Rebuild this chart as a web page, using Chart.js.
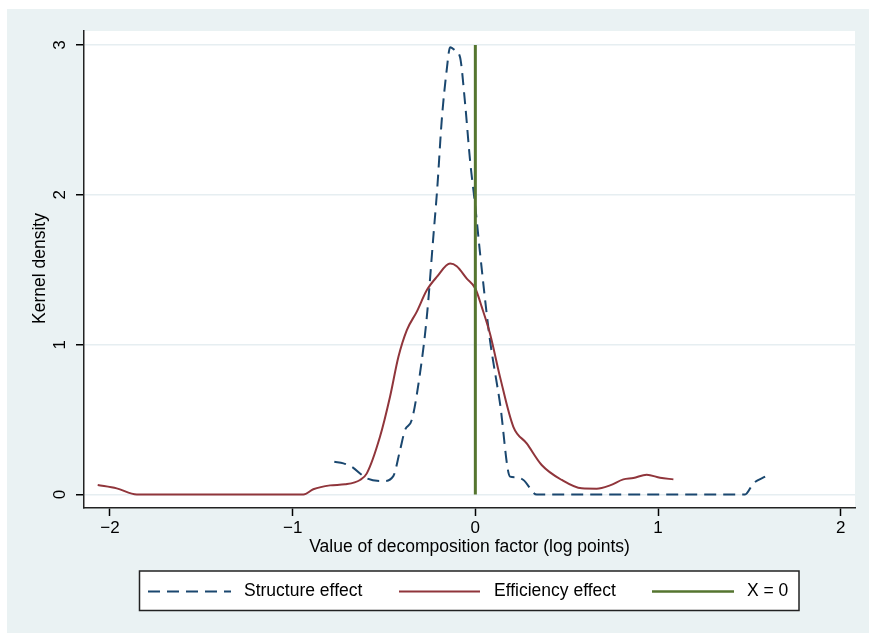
<!DOCTYPE html>
<html>
<head>
<meta charset="utf-8">
<script src="https://cdn.jsdelivr.net/npm/chart.js"></script>
<style>
  body { margin: 0; background: #fff; }
</style>
</head>
<body>
<canvas id="grafico" width="869" height="635"></canvas>
<script>
// valores (x en log points, y densidad)
const structureX = [-0.772, -0.722, -0.677, -0.594, -0.504, -0.449, -0.412, -0.385, -0.348, -0.303, -0.266, -0.23, -0.208, -0.184, -0.157, -0.138, -0.111, -0.084, -0.056, -0.029, 0, 0.026, 0.062, 0.08, 0.135, 0.19, 0.217, 0.263, 0.336, 1.476, 1.522, 1.586];
const structureY = [0.219, 0.208, 0.185, 0.108, 0.09, 0.123, 0.297, 0.43, 0.497, 0.808, 1.18, 1.719, 2.052, 2.497, 2.83, 2.985, 2.963, 2.919, 2.608, 2.23, 1.919, 1.608, 1.208, 1.03, 0.608, 0.119, 0.115, 0.097, 0, 0, 0.075, 0.119];

const efficiencyX = [-2.067, -1.963, -1.853, -0.941, -0.887, -0.795, -0.713, -0.631, -0.594, -0.522, -0.467, -0.421, -0.375, -0.321, -0.266, -0.211, -0.138, -0.102, -0.047, 0, 0.035, 0.08, 0.135, 0.208, 0.281, 0.363, 0.473, 0.582, 0.664, 0.737, 0.81, 0.865, 0.938, 1.011, 1.084];
const efficiencyY = [0.063, 0.041, 0, 0, 0.035, 0.061, 0.068, 0.097, 0.141, 0.385, 0.652, 0.919, 1.097, 1.219, 1.363, 1.452, 1.541, 1.523, 1.441, 1.375, 1.252, 1.074, 0.785, 0.452, 0.341, 0.197, 0.097, 0.041, 0.039, 0.061, 0.101, 0.11, 0.132, 0.112, 0.101];

const xLineX = [0, 0];
const xLineY = [0, 3];

const xTicks = [-2, -1, 0, 1, 2];
const yTicks = [0, 1, 2, 3];

const labels = ["Structure effect", "Efficiency effect", "X = 0"];
const xTitle = "Value of decomposition factor (log points)";
const yTitle = "Kernel density";

const FONT = '"Liberation Sans", Arial, Helvetica, sans-serif';
const azul = "#1a476f";
const rojo = "#90353b";
const verde = "#55752f";
const fondo = "#eaf2f3";
const guion = [12, 7];

const puntos = (xs, ys) => xs.map((x, i) => ({ x: x, y: ys[i] }));
const menos = (v) => (v < 0 ? "\u2212" + Math.abs(v) : String(v));

// fondo gris azulado + area blanca
const fondoPlugin = {
	id: "fondo",
	beforeDraw(chart) {
		const { ctx, chartArea } = chart;
		ctx.save();
		ctx.fillStyle = "#ffffff";
		ctx.fillRect(0, 0, chart.width, chart.height);
		ctx.fillStyle = fondo;
		ctx.fillRect(7, 9, chart.width - 7, 624);
		ctx.fillStyle = "#ffffff";
		ctx.fillRect(chartArea.left, chartArea.top, chartArea.right - chartArea.left, chartArea.bottom - chartArea.top);
		ctx.restore();
	},
};

// textos estilo stata: etiquetas y giradas, titulos y leyenda
const textosPlugin = {
	id: "textos",
	afterDraw(chart) {
		const { ctx, chartArea } = chart;
		const y = chart.scales.y;
		ctx.save();
		ctx.fillStyle = "#000";
		ctx.font = "17px " + FONT;
		ctx.textAlign = "center";
		ctx.textBaseline = "middle";

		yTicks.forEach((v) => {
			ctx.save();
			ctx.translate(60, y.getPixelForValue(v));
			ctx.rotate(-Math.PI / 2);
			ctx.fillText(String(v), 0, 0);
			ctx.restore();
		});

		ctx.font = "17.5px " + FONT;
		ctx.save();
		ctx.translate(40, 268.5);
		ctx.rotate(-Math.PI / 2);
		ctx.fillText(yTitle, 0, 0);
		ctx.restore();

		ctx.fillText(xTitle, (chartArea.left + chartArea.right) / 2, 547);

		// leyenda
		ctx.fillStyle = "#fff";
		ctx.fillRect(139.5, 571, 659.5, 39.5);
		ctx.strokeStyle = "#222";
		ctx.lineWidth = 1.5;
		ctx.strokeRect(139.5, 571, 659.5, 39.5);

		const ly = 591.5;
		const items = [
			{ x0: 148, x1: 231, tx: 244, color: azul, dash: guion, w: 2 },
			{ x0: 399, x1: 480, tx: 494, color: rojo, dash: [], w: 2 },
			{ x0: 652, x1: 734, tx: 747, color: verde, dash: [], w: 2.5 },
		];
		items.forEach((it, i) => {
			ctx.beginPath();
			ctx.setLineDash(it.dash);
			ctx.strokeStyle = it.color;
			ctx.lineWidth = it.w;
			ctx.moveTo(it.x0, ly);
			ctx.lineTo(it.x1, ly);
			ctx.stroke();
			ctx.setLineDash([]);
			ctx.fillStyle = "#000";
			ctx.textAlign = "left";
			ctx.fillText(labels[i], it.tx, ly);
		});
		ctx.restore();
	},
};

const config = {
	type: "line",
	data: {
		datasets: [
			{
				label: labels[0],
				data: puntos(structureX, structureY),
				borderColor: azul,
				borderWidth: 2,
				borderDash: guion,
				pointRadius: 0,
				cubicInterpolationMode: "monotone",
				fill: false,
				order: 2,
			},
			{
				label: labels[1],
				data: puntos(efficiencyX, efficiencyY),
				borderColor: rojo,
				borderWidth: 2,
				pointRadius: 0,
				cubicInterpolationMode: "monotone",
				fill: false,
				order: 1,
			},
			{
				label: labels[2],
				data: puntos(xLineX, xLineY),
				borderColor: verde,
				borderWidth: 3,
				pointRadius: 0,
				fill: false,
				order: 0,
			},
		],
	},
	options: {
		responsive: false,
		animation: false,
		layout: { padding: { top: 31, right: 14, left: 0, bottom: 0 } },
		plugins: {
			legend: { display: false },
			tooltip: { enabled: false },
		},
		scales: {
			x: {
				type: "linear",
				min: -2.142,
				max: 2.078,
				afterBuildTicks: (s) => {
					s.ticks = xTicks.map((v) => ({ value: v }));
				},
				afterFit: (s) => {
					s.height = 127;
				},
				ticks: {
					color: "#000",
					font: { family: FONT, size: 17 },
					padding: 2,
					maxRotation: 0,
					callback: (v) => menos(v),
				},
				grid: {
					drawOnChartArea: false,
					drawTicks: true,
					tickLength: 8,
					tickColor: "#000",
					tickWidth: 1.5,
				},
				border: { color: "#222", width: 1.5 },
			},
			y: {
				type: "linear",
				min: -0.09,
				max: 3.093,
				afterBuildTicks: (s) => {
					s.ticks = yTicks.map((v) => ({ value: v }));
				},
				afterFit: (s) => {
					s.width = 84;
				},
				ticks: { display: false },
				grid: {
					color: "#e6eef1",
					lineWidth: 1.5,
					drawTicks: true,
					tickLength: 8,
					tickColor: "#000",
					tickWidth: 1.5,
				},
				border: { color: "#222", width: 1.5 },
			},
		},
	},
	plugins: [fondoPlugin, textosPlugin],
};

new Chart(document.getElementById("grafico"), config);
</script>
</body>
</html>
